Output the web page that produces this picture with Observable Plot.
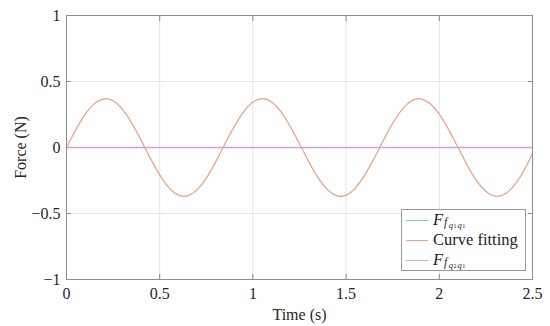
<!DOCTYPE html>
<html><head><meta charset="utf-8">
<script src="https://cdn.jsdelivr.net/npm/d3@7"></script>
<script src="https://cdn.jsdelivr.net/npm/@observablehq/plot@0.6"></script>
<style>
body{margin:0;background:#fff;}
#wrap{position:relative;width:550px;height:326px;font-family:"Liberation Serif",serif;}
#legend{position:absolute;left:401px;top:209px;width:125px;height:62px;border:1px solid #999;background:#fff;box-sizing:border-box;font-size:16.5px;color:#222;line-height:1;}
.row{position:absolute;left:4px;height:20px;display:flex;align-items:center;white-space:nowrap;}
.sw{width:22px;height:0;border-top:1.2px solid;margin-right:5px;}
.m{font-style:italic;}
.s1{font-size:11.5px;font-style:italic;position:relative;top:3px;margin-left:1px;margin-right:1.5px;}
.s2{font-size:8.5px;font-style:italic;position:relative;top:5px;}
.s3{font-size:6px;position:relative;top:6px;margin-left:0.5px;margin-right:1px;}
</style>
</head><body>
<div id="wrap"></div>
<script>
const time = [0,0.05,0.1,0.15,0.2,0.25,0.3,0.35,0.4,0.45,0.5,0.55,0.6,0.65,0.7,0.75,0.8,0.85,0.9,0.95,1.0,1.05,1.1,1.15,1.2,1.25,1.3,1.35,1.4,1.45,1.5,1.55,1.6,1.65,1.7,1.75,1.8,1.85,1.9,1.95,2.0,2.05,2.1,2.15,2.2,2.25,2.3,2.35,2.4,2.45,2.5];
const forceQ1 = [0,0.135,0.252,0.333,0.369,0.354,0.289,0.185,0.055,-0.083,-0.208,-0.306,-0.361,-0.366,-0.320,-0.231,-0.109,0.028,0.160,0.271,0.345,0.370,0.345,0.271,0.160,0.028,-0.109,-0.231,-0.320,-0.366,-0.361,-0.306,-0.208,-0.083,0.055,0.185,0.289,0.354,0.369,0.333,0.252,0.135,0,-0.135,-0.252,-0.333,-0.369,-0.354,-0.289,-0.185,-0.045];
const curveFit = [0,0.134,0.251,0.332,0.368,0.354,0.290,0.186,0.056,-0.082,-0.207,-0.305,-0.360,-0.366,-0.321,-0.232,-0.110,0.027,0.159,0.270,0.344,0.369,0.345,0.272,0.161,0.029,-0.108,-0.230,-0.319,-0.365,-0.361,-0.307,-0.209,-0.084,0.054,0.184,0.288,0.353,0.368,0.333,0.253,0.136,0.001,-0.134,-0.251,-0.332,-0.368,-0.354,-0.290,-0.186,-0.046];
const forceQ2 = [0,0,0,0,0,0,0,0,0,0,0,0,0,0,0,0,0,0,0,0,0,0,0,0,0,0,0,0,0,0,0,0,0,0,0,0,0,0,0,0,0,0,0,0,0,0,0,0,0,0,0];
const xTicks = [0,0.5,1,1.5,2,2.5];
const yTicks = [-1,-0.5,0,0.5,1];

const rows = (ys) => time.map((t,i)=>({t, v: ys[i]}));
const fmt = d => d < 0 ? "\u2212" + Math.abs(d) : String(d);
const axisColor = "#8c8c8c";
const chart = Plot.plot({
  width: 550, height: 326,
  marginLeft: 66, marginRight: 18, marginTop: 15, marginBottom: 47,
  style: {fontFamily: "Liberation Serif, serif", fontSize: "16px", color: "#262626", background: "#fff"},
  x: {domain: [0, 2.5]},
  y: {domain: [-1, 1]},
  marks: [
    Plot.gridX(xTicks, {stroke: "#e6e6e6", strokeOpacity: 1}),
    Plot.gridY(yTicks, {stroke: "#e6e6e6", strokeOpacity: 1}),
    Plot.axisX(xTicks, {tickSize: 0, tickPadding: 8, tickFormat: fmt, fontSize: 16, label: "Time (s)", labelAnchor: "center", labelArrow: "none", labelOffset: 40}),
    Plot.axisY(yTicks, {tickSize: 0, tickPadding: 6, tickFormat: fmt, fontSize: 16, label: "Force (N)", labelAnchor: "center", labelArrow: "none", labelOffset: 52}),
    Plot.axisX(xTicks, {anchor: "bottom", tickSize: -5, text: null, stroke: axisColor, label: null}),
    Plot.axisX(xTicks, {anchor: "top", tickSize: -5, text: null, stroke: axisColor, label: null}),
    Plot.axisY(yTicks, {anchor: "left", tickSize: -5, text: null, stroke: axisColor, label: null}),
    Plot.axisY(yTicks, {anchor: "right", tickSize: -5, text: null, stroke: axisColor, label: null}),
    Plot.line(rows(forceQ1), {x: "t", y: "v", stroke: "#6bb8e3", strokeWidth: 0.6, curve: "natural"}),
    Plot.line(rows(curveFit), {x: "t", y: "v", stroke: "#f5a07a", strokeWidth: 1.1, curve: "natural"}),
    Plot.line(rows(forceQ2), {x: "t", y: "v", stroke: "#d3a1da", strokeWidth: 1.4}),
    Plot.frame({stroke: axisColor, strokeWidth: 1})
  ]
});
const wrap = document.getElementById("wrap");
wrap.appendChild(chart);
const leg = document.createElement("div");
leg.id = "legend";
const sym = (a) => `<span class="m">F</span><span class="s1">f</span><span class="s2">q</span><span class="s3">${a}</span><span class="s2">q</span><span class="s3">1</span>`;
leg.innerHTML = `
<div class="row" style="top:0px"><span class="sw" style="border-color:#7cc3ea"></span>${sym(1)}</div>
<div class="row" style="top:20px"><span class="sw" style="border-color:#f5a07a"></span><span>Curve fitting</span></div>
<div class="row" style="top:40px"><span class="sw" style="border-color:#d8a6dc"></span>${sym(2)}</div>`;
wrap.appendChild(leg);
</script>
</body></html>
